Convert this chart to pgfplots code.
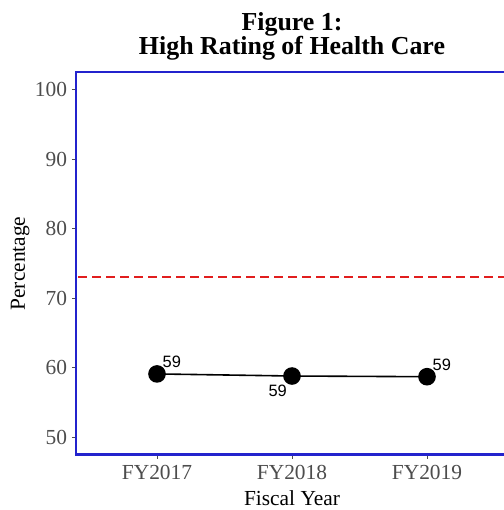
\documentclass[border=0pt]{standalone}
\usepackage{pgfplots}
\pgfplotsset{compat=1.18}
\usepackage{fontspec}
\setmainfont{Liberation Serif}
\newfontfamily\labfont{Liberation Sans}

\definecolor{frameblue}{RGB}{35,35,205}
\definecolor{refred}{RGB}{225,30,30}
\definecolor{tickgray}{RGB}{77,77,77}

\begin{document}
\begin{tikzpicture}
\begin{axis}[
  at={(76bp,55.5bp)}, anchor=south west,
  scale only axis,
  width=432bp, height=382bp,
  xmin=0.4, xmax=3.6,
  ymin=47.5, ymax=102.5,
  xtick={1,2,3},
  xticklabels={FY2017,FY2018,FY2019},
  ytick={50,60,70,80,90,100},
  xtick pos=left, ytick pos=left,
  tick align=outside,
  major tick length=4bp,
  tick style={color=tickgray, line width=1bp},
  axis line style={color=frameblue, line width=2bp},
  ticklabel style={font=\fontsize{21.5}{21.5}\selectfont, color=tickgray},
  xticklabel style={yshift=-3bp},
  yticklabel style={xshift=-1.5bp},
  /pgf/number format/assume math mode=true,
  xlabel={Fiscal Year},
  ylabel={Percentage},
  label style={font=\fontsize{21.5}{21.5}\selectfont, color=black},
  xlabel style={at={(0.5,0)}, anchor=base, yshift=-51bp},
  ylabel style={at={(0,0.5)}, anchor=base, yshift=51bp},
]
  % reference line
  \addplot[color=refred, solid, line width=2.2bp, dash pattern=on 9bp off 5bp, mark=none] coordinates {(0,73) (4,73)};
  % trend
  \addplot[color=black, solid, line width=1.6bp, mark=*, mark size=8bp, mark options={fill=black}] coordinates {(1,59.1) (2,58.8) (3,58.7)};
  % value labels
  \addplot[draw=none, mark=none, point meta=y,
    nodes near coords={\pgfmathprintnumber[fixed,precision=0]{\pgfplotspointmeta}},
    nodes near coords style={font=\labfont\fontsize{16.5}{16.5}\selectfont, black, inner sep=0pt, anchor=south west, xshift=5.5bp, yshift=6bp}]
    coordinates {(1,59.1) (3,58.7)};
  \addplot[draw=none, mark=none, point meta=y,
    nodes near coords={\pgfmathprintnumber[fixed,precision=0]{\pgfplotspointmeta}},
    nodes near coords style={font=\labfont\fontsize{16.5}{16.5}\selectfont, black, inner sep=0pt, anchor=north east, xshift=-5bp, yshift=-8.5bp}]
    coordinates {(2,58.8)};
\end{axis}
\node[font=\bfseries\fontsize{26}{26}\selectfont, anchor=base] at (292bp,479bp) {Figure 1:};
\node[font=\bfseries\fontsize{26}{26}\selectfont, anchor=base] at (292bp,455bp) {High Rating of Health Care};
\pgfresetboundingbox
\useasboundingbox (0,0) rectangle (504bp,510bp);
\end{tikzpicture}
\end{document}
